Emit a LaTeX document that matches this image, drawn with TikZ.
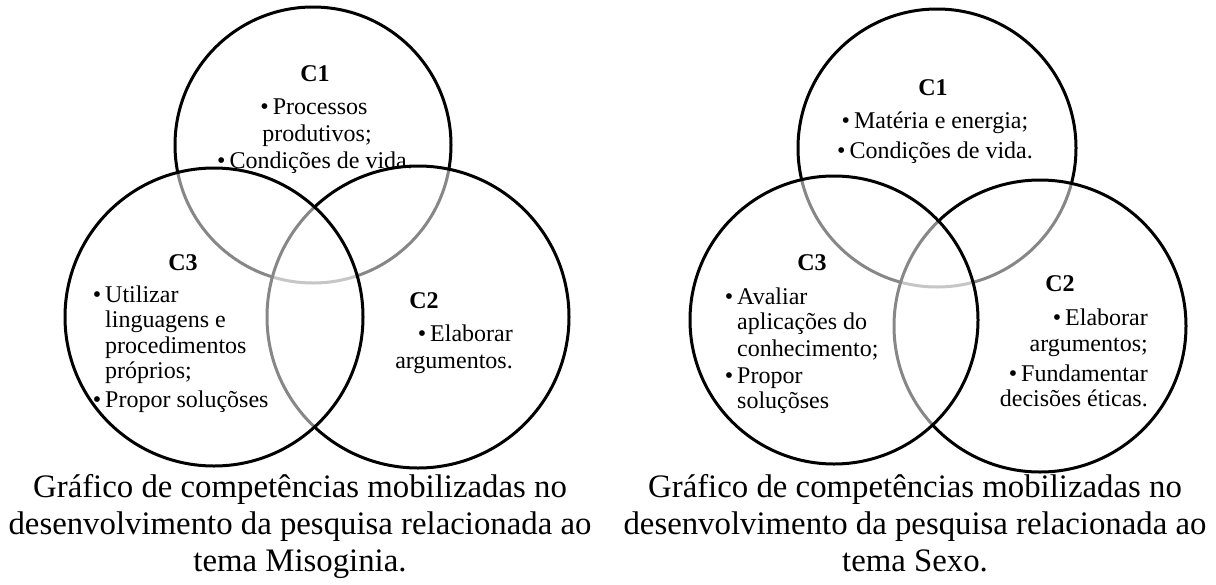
\documentclass[tikz,border=0pt]{standalone}
\usepackage{fontspec}
\setmainfont{Liberation Serif}
\begin{document}
\begin{tikzpicture}[x=1pt,y=-1pt,
  venn/.style={circle, draw=black, line width=3pt, fill=white, fill opacity=0.53, inner sep=0pt, minimum size=#1},
  hd/.style={font=\fontsize{24}{28}\selectfont\bfseries, anchor=base, inner sep=0pt},
  txc/.style={font=\fontsize{24}{28}\selectfont, anchor=base, inner sep=0pt},
  txl/.style={font=\fontsize{24}{28}\selectfont, anchor=base west, inner sep=0pt},
  txr/.style={font=\fontsize{24}{28}\selectfont, anchor=base east, inner sep=0pt},
  captxt/.style={font=\fontsize{32.8}{37}\selectfont, anchor=base, inner sep=0pt}]
\useasboundingbox (0,0) rectangle (1216,584);
% left Venn
\node[venn=276pt] (L1) at (313,145) {};
\node[venn=302pt] (L2) at (418,317) {};
\node[venn=298pt] (L3) at (214,317) {};
% right Venn
\node[venn=278pt] (R1) at (937,148) {};
\node[venn=292pt] (R2) at (1040,326) {};
\node[venn=288pt] (R3) at (834,320) {};
% left texts
\node[hd] (l1h) at (315,81) {C1};
\node[txc] (l1a) at (314,114) {•\,Processos};
\node[txc] (l1b) at (317,141) {produtivos;};
\node[txc] (l1c) at (315,168) {•\,Condições de vida.};
\node[hd] (l3h) at (183,270) {C3};
\node[txl] (l3a) at (105,302) {\llap{•\,}Utilizar};
\node[txl] (l3b) at (105,327) {linguagens e};
\node[txl] (l3c) at (105,353) {procedimentos};
\node[txl] (l3d) at (105,378) {próprios;};
\node[txl] (l3e) at (105,407) {\llap{•\,}Propor soluçõses};
\node[hd] (l2h) at (424,308) {C2};
\node[txr] (l2a) at (513,341) {•\,Elaborar};
\node[txr] (l2b) at (513,368) {argumentos.};
% right texts
\node[hd] (r1h) at (933,95) {C1};
\node[txc] (r1a) at (935,128) {•\,Matéria e energia;};
\node[txc] (r1b) at (935,158) {•\,Condições de vida.};
\node[hd] (r3h) at (812,270) {C3};
\node[txl] (r3a) at (737,304) {\llap{•\,}Avaliar};
\node[txl] (r3b) at (737,329) {aplicações do};
\node[txl] (r3c) at (737,356) {conhecimento;};
\node[txl] (r3d) at (737,383) {\llap{•\,}Propor};
\node[txl] (r3e) at (737,408) {soluçõses};
\node[hd] (r2h) at (1060,291) {C2};
\node[txr] (r2a) at (1148,325) {•\,Elaborar};
\node[txr] (r2b) at (1148,351) {argumentos;};
\node[txr] (r2c) at (1148,381) {•\,Fundamentar};
\node[txr] (r2d) at (1148,406) {decisões éticas.};
% captions
\node[captxt] (lc1) at (300,497) {Gráfico de competências mobilizadas no};
\node[captxt] (lc2) at (300,534) {desenvolvimento da pesquisa relacionada ao};
\node[captxt] (lc3) at (300,571) {tema Misoginia.};
\node[captxt] (rc1) at (915,497) {Gráfico de competências mobilizadas no};
\node[captxt] (rc2) at (915,534) {desenvolvimento da pesquisa relacionada ao};
\node[captxt] (rc3) at (915,571) {tema Sexo.};
\end{tikzpicture}
\end{document}
